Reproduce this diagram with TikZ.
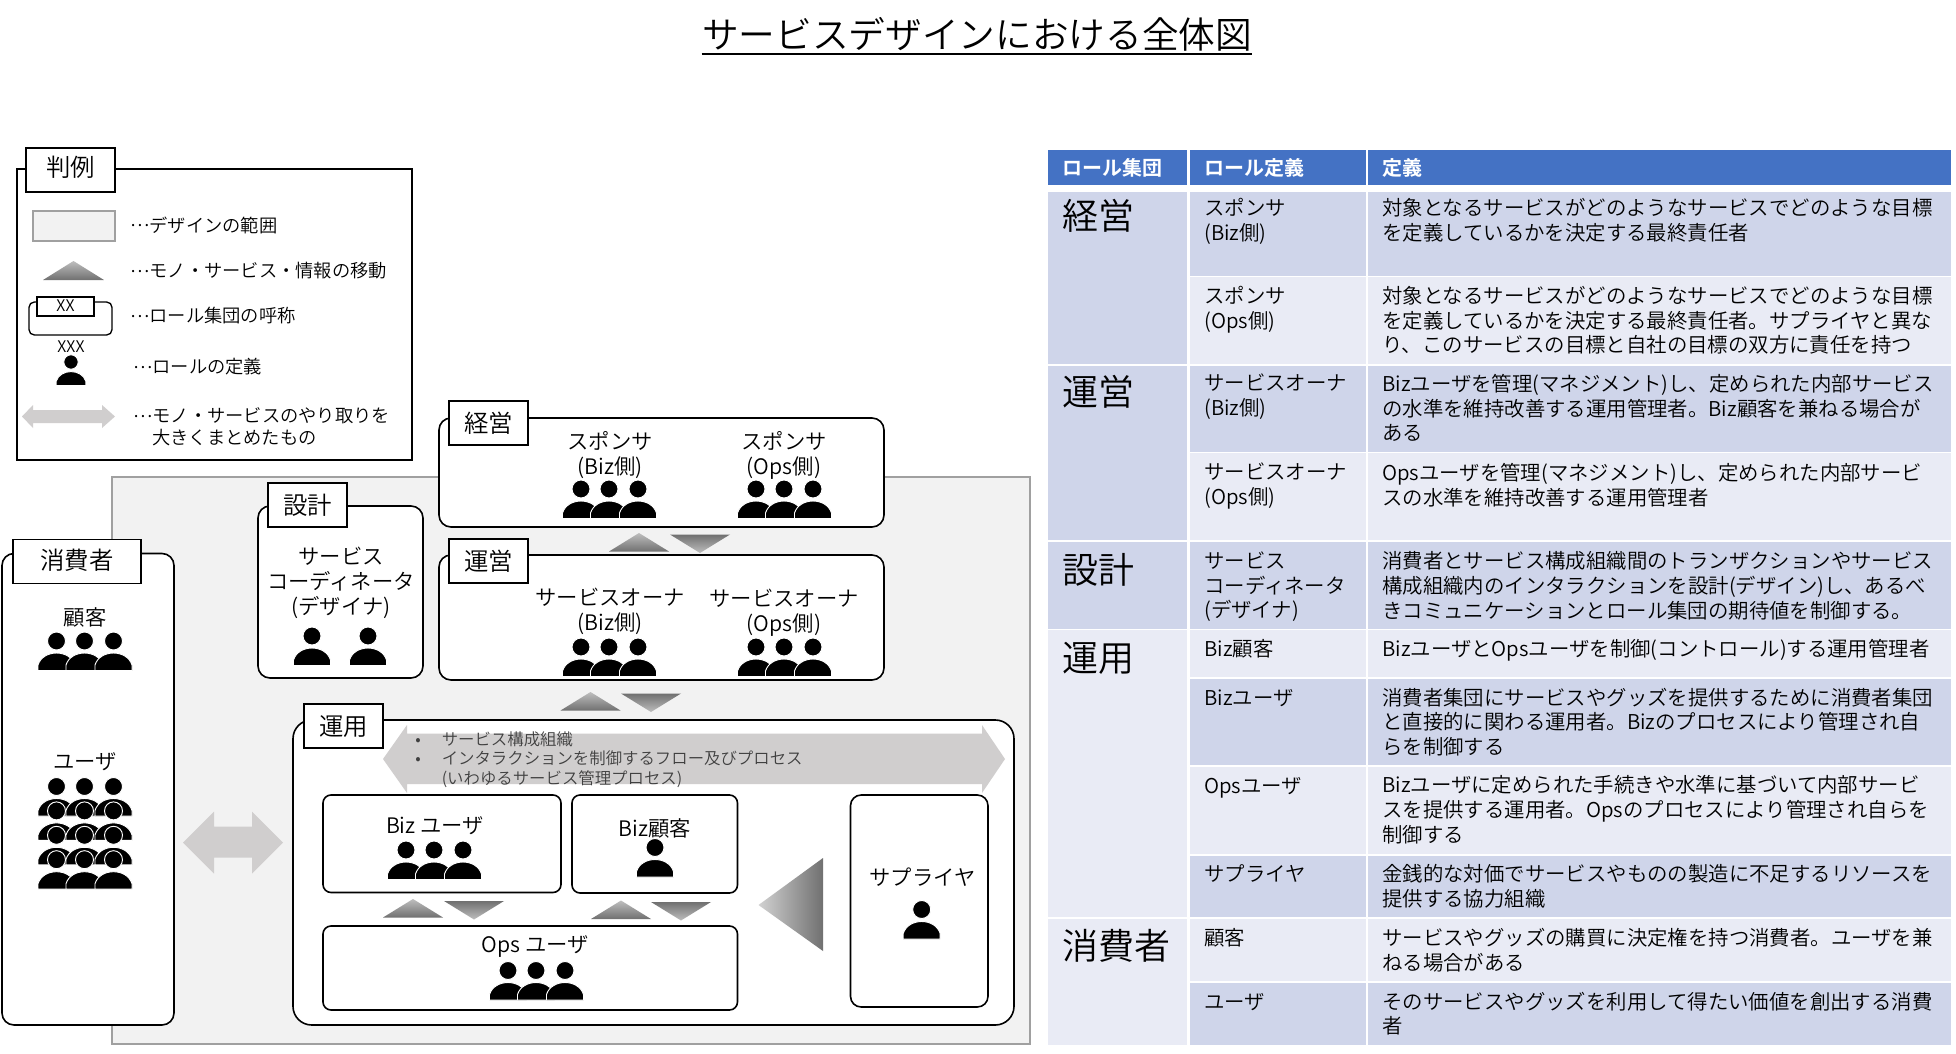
\documentclass[tikz,border=0pt]{standalone}
\usepackage{fontspec}
\setmainfont{Noto Sans CJK JP}[UprightFont=* DemiLight, BoldFont=* Bold]
\definecolor{designfill}{HTML}{F2F2F2}
\definecolor{designline}{HTML}{A0A0A0}
\definecolor{moveline}{HTML}{D0CECE}
\definecolor{headblue}{HTML}{4472C4}
\definecolor{celldark}{HTML}{CFD5EA}
\definecolor{celllight}{HTML}{E9EBF5}
\definecolor{tridark}{HTML}{707070}
\definecolor{trilight}{HTML}{BEBEBE}
\newcommand{\middots}{\raisebox{.3em}{…}}
\tikzset{
	rolebox/.style={draw=black, fill=white, line width=1.2pt, rounded corners=9pt},
	rolelabel/.style={draw=black, fill=white, line width=1.2pt, inner sep=0pt, minimum width=59.25pt, minimum height=33pt, text height=18.5pt, text depth=5pt, font=\fontsize{18.3}{22}\selectfont},
	roletext/.style={inner sep=0pt, align=center, font=\fontsize{16}{18.75}\selectfont},
	legendtext/.style={inner sep=0pt, anchor=west, align=left, font=\fontsize{13.7}{16.5}\selectfont},
	cellhead/.style={inner sep=0pt, anchor=west, text=white, font=\fontsize{15}{18}\selectfont\bfseries},
	cellbig/.style={inner sep=0pt, anchor=west, font=\fontsize{27}{32}\selectfont},
	cellbody/.style={inner sep=0pt, anchor=north west, align=left, font=\fontsize{15.3}{18.5}\selectfont, execute at begin node=\strut},
	person/.pic={
		\path[fill=black, draw=white, line width=.7pt] (0,0) circle (9);
		\path[fill=black, draw=white, line width=.7pt] (-18.5,29.5) -- (-18.5,24) .. controls (-16,16) and (-8,12) .. (0,12) .. controls (8,12) and (16,16) .. (18.5,24) -- (18.5,29.5) -- cycle;
	},
	persongroup/.pic={
		\pic at (-28,0) {person};
		\pic at (0,0) {person};
		\pic at (29,0) {person};
	}
}
\begin{document}
\begin{tikzpicture}[x=0.75pt, y=-0.75pt]
\useasboundingbox (0,0) rectangle (1956,1053);

\node[inner sep=0pt, font=\fontsize{27.5}{32}\selectfont] (title) at (977,34) {サービスデザインにおける全体図};
\draw[line width=1.2pt] ([yshift=-2pt]title.south west) -- ([yshift=-2pt]title.south east);

% design area
\draw[fill=designfill, draw=designline, line width=1.5pt] (112,477) rectangle (1029.5,1044);

% legend
\draw[draw=black, fill=white, line width=1.2pt] (17,169) rectangle (412,460);
\node[rolelabel, minimum width=66.75pt, text height=15pt] (legendlabel) at (70.5,170) {判例};
\draw[fill=designfill, draw=designline, line width=1.5pt] (33,211) rectangle (115,241);
\shade[top color=trilight, bottom color=tridark] (43,280) -- (73.5,261) -- (104,280) -- cycle;
\draw[rolebox, line width=1pt, rounded corners=4pt] (29,302) rectangle (112,335);
\draw[draw=black, fill=white, line width=1pt] (37,297) rectangle (94,316);
\node[inner sep=0pt, font=\fontsize{12}{14}\selectfont] (legendxx) at (65.5,306) {XX};
\node[inner sep=0pt, font=\fontsize{12}{14}\selectfont] (legendxxx) at (71,346.5) {XXX};
\pic[scale=.8] at (71,362) {person};
\fill[moveline] (22,416.5) -- (33,405) -- (33,410) -- (102,410) -- (102,405) -- (115,416.5) -- (102,428) -- (102,423) -- (33,423) -- (33,428) -- cycle;
\node[legendtext] (legenda) at (130,225) {\middots デザインの範囲};
\node[legendtext] (legendb) at (130,271) {\middots モノ・サービス・情報の移動};
\node[legendtext] (legendc) at (130,316) {\middots ロール集団の呼称};
\node[legendtext] (legendd) at (133,367) {\middots ロールの定義};
\node[legendtext] (legende) at (133,416) {\middots モノ・サービスのやり取りを};
\node[legendtext] (legendf) at (152,438) {大きくまとめたもの};

% role groups
\draw[rolebox] (2,553.5) rectangle (174,1025);
\draw[rolebox] (258,506) rectangle (423,678);
\draw[rolebox] (439,418) rectangle (884,527);
\draw[rolebox] (439,555) rectangle (884,680);
\draw[rolebox, rounded corners=14pt] (293,720) rectangle (1014,1025);
\node[rolelabel, minimum width=96pt, text height=17pt] (consumerlabel) at (77,561.5) {消費者};
\node[rolelabel] (designlabel) at (307.5,505) {設計};
\node[rolelabel] (execlabel) at (488.5,423) {経営};
\node[rolelabel] (managelabel) at (488.5,561) {運営};
\node[rolelabel] (operlabel) at (343.5,726) {運用};

% flow over the operation group
\fill[moveline] (383,759) -- (407,725) -- (407,733.5) -- (982,733.5) -- (982,725) -- (1005,759) -- (982,793) -- (982,784) -- (407,784) -- (407,793) -- cycle;
\node[inner sep=0pt, anchor=west, align=left, text=black!75, font=\fontsize{12.3}{14.6}\selectfont] (flowtext) at (415,759.5) {\makebox[19.9pt][l]{•}サービス構成組織\\\makebox[19.9pt][l]{•}インタラクションを制御するフロー及びプロセス\\\makebox[19.9pt][l]{}(いわゆるサービス管理プロセス)};

\draw[rolebox, rounded corners=6pt] (323,795) rectangle (561,892.5);
\draw[rolebox, rounded corners=6pt] (572,795) rectangle (737.5,893);
\draw[rolebox, rounded corners=6pt] (323,926) rectangle (737.5,1010);
\draw[rolebox, rounded corners=8pt] (850.5,795) rectangle (988,1007);

% movement between groups
\foreach \x/\y in {609/533, 560.5/692, 383/899, 591/900.5}
	\shade[top color=trilight, bottom color=tridark] (\x,\y+18.5) -- (\x+30,\y) -- (\x+60,\y+18.5) -- cycle;
\foreach \x/\y in {670/534.5, 621/693.5, 444/901, 651/902}
	\shade[top color=tridark, bottom color=trilight] (\x,\y) -- (\x+30,\y+18.5) -- (\x+60,\y) -- cycle;
\shade[left color=trilight!70!white, right color=tridark] (758.5,905) -- (823,858) -- (823,951) -- cycle;
\fill[moveline] (183,842.5) -- (214,811.5) -- (214,826.5) -- (252,826.5) -- (252,811.5) -- (283,842.5) -- (252,873.5) -- (252,857.5) -- (214,857.5) -- (214,873.5) -- cycle;

% role names
\node[roletext] (customer) at (85,617) {顧客};
\node[roletext] (user) at (85,762) {ユーザ};
\node[roletext] (coordinator) at (341,583) {サービス\\コーディネータ\\(デザイナ)};
\node[roletext] (sponsorbiz) at (610,455) {スポンサ\\(Biz側)};
\node[roletext] (sponsorops) at (784,455) {スポンサ\\(Ops側)};
\node[roletext] (ownerbiz) at (610,611.5) {サービスオーナ\\(Biz側)};
\node[roletext] (ownerops) at (784,612.5) {サービスオーナ\\(Ops側)};
\node[roletext] (bizuser) at (435,826) {Biz ユーザ};
\node[roletext] (bizcustomer) at (655,828) {Biz顧客};
\node[roletext] (opsuser) at (535.5,946.5) {Ops ユーザ};
\node[roletext] (supplier) at (922.5,877.5) {サプライヤ};

\foreach \x/\y in {84.5/641, 609/489, 784/489, 609/647, 784/647, 434/850, 536/970.5}
	\pic at (\x,\y) {persongroup};
\foreach \y in {786.5, 810.9, 835.3, 859.7}
	\pic at (84.5,\y) {persongroup};
\foreach \x/\y in {312/636, 368/636, 655/847.5, 921.7/909.5}
	\pic at (\x,\y) {person};

% table
\fill[headblue] (1048,150) rectangle (1187,185);
\fill[headblue] (1189.5,150) rectangle (1366,185);
\fill[headblue] (1367.5,150) rectangle (1951,185);
\node[cellhead] (headgroup) at (1062,168) {ロール集団};
\node[cellhead] (headrole) at (1204,168) {ロール定義};
\node[cellhead] (headdef) at (1382,168) {定義};

\foreach \ya/\yb/\yt/\cellcol/\groupname [count=\i] in {192/364/216/celldark/経営, 366/540/392/celldark/運営, 542/629/570/celldark/設計, 630/917/658/celllight/運用, 919/1045/946/celllight/消費者} {
	\fill[\cellcol] (1048,\ya) rectangle (1187,\yb);
	\node[cellbig] (group\i) at (1062,\yt) {\groupname};
}

\foreach \ya/\yb/\yt/\cellcol/\rolename/\defname [count=\i] in {
	192/276/198/celldark/{スポンサ\\(Biz側)}/{対象となるサービスがどのようなサービスでどのような目標\\を定義しているかを決定する最終責任者},
	277/364/286/celllight/{スポンサ\\(Ops側)}/{対象となるサービスがどのようなサービスでどのような目標\\を定義しているかを決定する最終責任者。サプライヤと異な\\り、このサービスの目標と自社の目標の双方に責任を持つ},
	366/452/374/celldark/{サービスオーナ\\(Biz側)}/{Bizユーザを管理(マネジメント)し、定められた内部サービス\\の水準を維持改善する運用管理者。Biz顧客を兼ねる場合が\\ある},
	453/540/463/celllight/{サービスオーナ\\(Ops側)}/{Opsユーザを管理(マネジメント)し、定められた内部サービ\\スの水準を維持改善する運用管理者},
	542/629/551.5/celldark/{サービス\\コーディネータ\\(デザイナ)}/{消費者とサービス構成組織間のトランザクションやサービス\\構成組織内のインタラクションを設計(デザイン)し、あるべ\\きコミュニケーションとロール集団の期待値を制御する。},
	630/677/638.5/celllight/{Biz顧客}/{BizユーザとOpsユーザを制御(コントロール)する運用管理者},
	679/765/687.5/celldark/{Bizユーザ}/{消費者集団にサービスやグッズを提供するために消費者集団\\と直接的に関わる運用者。Bizのプロセスにより管理され自\\らを制御する},
	767/854/775.5/celllight/{Opsユーザ}/{Bizユーザに定められた手続きや水準に基づいて内部サービ\\スを提供する運用者。Opsのプロセスにより管理され自らを\\制御する},
	856/917/864/celldark/{サプライヤ}/{金銭的な対価でサービスやものの製造に不足するリソースを\\提供する協力組織},
	919/981/928/celllight/{顧客}/{サービスやグッズの購買に決定権を持つ消費者。ユーザを兼\\ねる場合がある},
	983/1045/991.5/celldark/{ユーザ}/{そのサービスやグッズを利用して得たい価値を創出する消費\\者}} {
	\fill[\cellcol] (1189.5,\ya) rectangle (1366,\yb);
	\fill[\cellcol] (1367.5,\ya) rectangle (1951,\yb);
	\node[cellbody] (role\i) at (1204,\yt) {\rolename};
	\node[cellbody] (def\i) at (1382,\yt) {\defname};
}
\end{tikzpicture}
\end{document}
